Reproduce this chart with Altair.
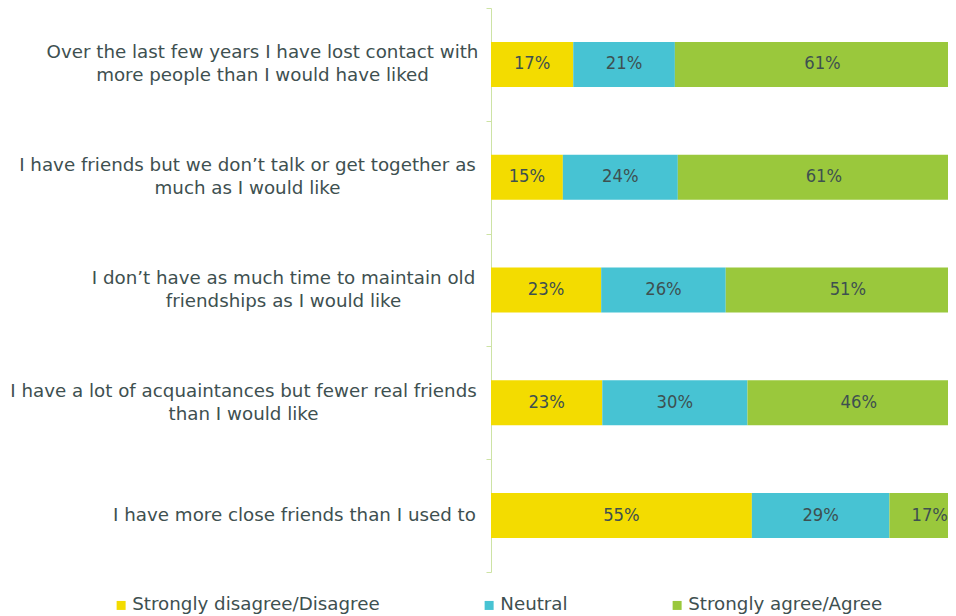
import json
import altair as alt
import pandas as pd

questions = [
    "Over the last few years I have lost contact with|more people than I would have liked",
    "I have friends but we don’t talk or get together as|much as I would like",
    "I don’t have as much time to maintain old|friendships as I would like",
    "I have a lot of acquaintances but fewer real friends|than I would like",
    "I have more close friends than I used to",
]
categories = ["Strongly disagree/Disagree", "Neutral", "Strongly agree/Agree"]
disagree = [17, 15, 23, 23, 55]
neutral = [21, 24, 26, 30, 29]
agree = [61, 61, 51, 46, 17]

colors = ["#F3DC00", "#47C3D3", "#9AC83C"]
text_color = "#3E5050"
axis_color = "#CDE3A4"
FONT = "DejaVu Sans"
NUM_FONT = "DejaVu Sans Condensed, DejaVu Sans"
FS = 18.25
LINE_H = 23
# label padding per question (style: distance from tick to label-block centre)
label_pad = [224, 239, 203, 243, 192]
# the original plot runs past the right edge of the picture; show only this share
visible_share = 0.954

rows = []
for qi, q in enumerate(questions):
    for ci, (cat, vals) in enumerate(zip(categories, [disagree, neutral, agree])):
        rows.append({"question": q, "category": cat, "order": ci, "value": vals[qi]})
df = pd.DataFrame(rows)

pad_cond = {
    "condition": [
        {"test": f"datum.value === {json.dumps(q)}", "value": p}
        for q, p in zip(questions, label_pad)
    ],
    "value": 220,
}
# centre multi-line labels vertically on the band
off_cond = {
    "condition": [
        {"test": f"datum.value === {json.dumps(q)}", "value": -(q.count('|')) * LINE_H / 2}
        for q in questions
    ],
    "value": 0,
}

y_scale = alt.Scale(paddingInner=0, paddingOuter=0)

y_enc = alt.Y(
    "question:N",
    sort=questions,
    scale=y_scale,
    axis=alt.Axis(
        title=None,
        labelExpr="split(datum.label, '|')",
        labelAlign="center",
        labelBaseline="middle",
        labelPadding=pad_cond,
        labelOffset=off_cond,
        labelFont=FONT,
        labelFontSize=FS,
        labelColor=text_color,
        labelLineHeight=LINE_H,
        labelLimit=0,
        tickBand="extent",
        tickSize=5,
        tickColor=axis_color,
        domainColor=axis_color,
        grid=False,
    ),
)

x_scale = alt.Scale(domain=[0, visible_share], nice=False, zero=True)

base = alt.Chart(df).transform_stack(
    stack="value",
    groupby=["question"],
    as_=["v0", "v1"],
    offset="normalize",
    sort=[alt.SortField("order", order="ascending")],
).transform_calculate(mid="(datum.v0 + datum.v1) / 2", lab="datum.value + '%'")

bars = base.mark_bar(size=45, clip=True).encode(
    y=y_enc,
    x=alt.X("v0:Q", scale=x_scale, axis=None),
    x2="v1:Q",
    color=alt.Color(
        "category:N",
        scale=alt.Scale(domain=categories, range=colors),
        sort=categories,
        legend=alt.Legend(
            title=None,
            orient="none",
            legendX=-379,
            legendY=588,
            direction="horizontal",
            symbolType="square",
            symbolSize=81,
            symbolStrokeWidth=0,
            symbolOpacity=1,
            labelFont=FONT,
            labelFontSize=FS,
            labelColor=text_color,
            labelOffset=2,
            labelLimit=0,
            columnPadding=100,
            padding=0,
        ),
    ),
)

texts = base.mark_text(font=NUM_FONT, fontSize=FS, color=text_color, baseline="middle").encode(
    y=alt.Y("question:N", sort=questions, scale=y_scale),
    x=alt.X("mid:Q", scale=x_scale),
    text="lab:N",
)

chart = (
    alt.layer(bars, texts)
    .properties(
        width=457,
        height=564,
        autosize=alt.AutoSizeParams(type="none"),
        padding={"left": 483, "top": 0, "right": 0, "bottom": 42},
    )
    .configure_view(stroke=None)
)

chart.save("out.html", embed_options={"renderer": "svg", "actions": False})
